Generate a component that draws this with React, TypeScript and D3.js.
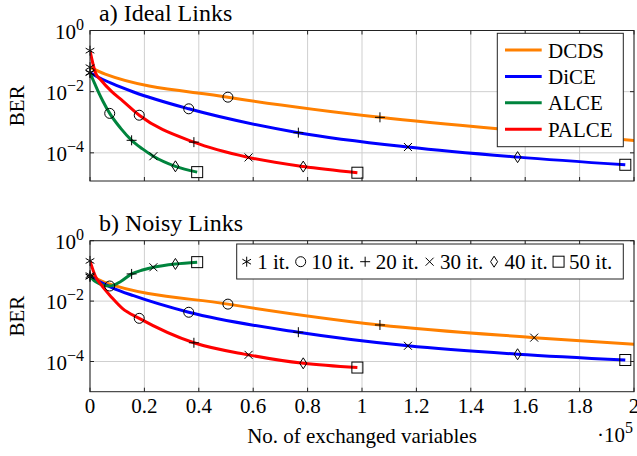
import * as d3 from 'd3';
import { useEffect, useRef } from 'react';

// iterations at which each curve was sampled (markers sit at 1,10,20,30,40,50)
const dcdsIt = [1, 2, 10, 20, 30, 40];
const diceIt = [1, 2, 3, 5, 10, 20, 30, 40, 50];
const alceIt = [1, 2, 3, 5, 7, 10, 15, 20, 25, 30, 40, 50];
const palceIt = [1, 2, 3, 5, 7, 10, 20, 30, 40, 50];

// exchanged variables (x 10^5)
const dcdsX = [0, 0.056, 0.507, 1.066, 1.633, 2.196];
const diceX = [0, 0.04, 0.08, 0.16, 0.363, 0.766, 1.169, 1.572, 1.968];
const alceX = [0, 0.008, 0.016, 0.032, 0.048, 0.0725, 0.113, 0.153, 0.193, 0.233, 0.314, 0.394];
const palceX = [0, 0.02, 0.04, 0.08, 0.12, 0.181, 0.382, 0.583, 0.784, 0.983];

// a) ideal links
const idealDcds = [0.0631, 0.0372, 0.00661, 0.00145, 4.79e-4, 1.78e-4];
const idealDice = [0.0417, 0.0269, 0.0186, 0.00977, 0.00275, 4.57e-4, 1.55e-4, 7.24e-5, 4.07e-5];
const idealAlce = [0.0407, 0.0282, 0.0195, 0.00933, 0.00479, 0.00195, 6.31e-4, 2.57e-4, 1.35e-4, 7.76e-5, 3.63e-5, 2.34e-5];
const idealPalce = [0.219, 0.0417, 0.024, 0.01, 0.00501, 0.0017, 2.24e-4, 7.08e-5, 3.55e-5, 2.24e-5];

// b) noisy links
const noisyDcds = [0.0724, 0.0407, 0.00794, 0.00162, 6.17e-4, 2.82e-4];
const noisyDice = [0.0646, 0.0417, 0.0282, 0.0151, 0.00427, 9.33e-4, 3.31e-4, 1.74e-4, 1.12e-4];
const noisyAlce = [0.0646, 0.055, 0.0468, 0.0389, 0.0339, 0.0316, 0.0447, 0.0794, 0.107, 0.132, 0.17, 0.195];
const noisyPalce = [0.214, 0.0661, 0.0355, 0.0132, 0.00562, 0.00269, 4.17e-4, 1.66e-4, 8.7e-5, 6.31e-5];

const methods = ['DCDS', 'DiCE', 'ALCE', 'PALCE'];
const markerIters = [1, 10, 20, 30, 40, 50];
const markerLabels = ['1 it.', '10 it.', '20 it.', '30 it.', '40 it.', '50 it.'];
const xTicks = [0, 0.2, 0.4, 0.6, 0.8, 1, 1.2, 1.4, 1.6, 1.8, 2];
const yTickExp = [0, -2, -4];

const colors: Record<string, string> = { DCDS: '#ff8000', DiCE: '#0000ff', ALCE: '#00843d', PALCE: '#ff0000' };
const shapes = ['asterisk', 'circle', 'plus', 'cross', 'diamond', 'square'];
const FONT = "'Liberation Serif', 'Times New Roman', serif";

function drawMarker(g: any, shape: string, cx: number, cy: number) {
  const m = g.append('g').attr('transform', `translate(${cx},${cy})`)
    .attr('fill', 'none').attr('stroke', '#000').attr('stroke-width', 1);
  if (shape === 'asterisk') m.append('path').attr('d', 'M0,-5V5M4.33,-2.5L-4.33,2.5M-4.33,-2.5L4.33,2.5');
  else if (shape === 'circle') m.append('circle').attr('r', 5);
  else if (shape === 'plus') m.append('path').attr('d', 'M-5,0H5M0,-5V5');
  else if (shape === 'cross') m.append('path').attr('d', 'M-4,-4L4,4M-4,4L4,-4');
  else if (shape === 'diamond') m.append('path').attr('d', 'M0,-5.5L3.5,0L0,5.5L-3.5,0Z');
  else m.append('rect').attr('x', -5.5).attr('y', -5.5).attr('width', 11).attr('height', 11);
}

export default function App() {
  const ref = useRef<SVGSVGElement>(null);

  useEffect(() => {
    const svg = d3.select(ref.current);
    svg.selectAll('*').remove();

    const left = 90, right = 634;
    const x = d3.scaleLinear().domain([0, 2]).range([left, right]);

    const panels = [
      { id: 'a', title: 'a) Ideal Links', top: 30.5, bottom: 181, yMin: 1.2e-5,
        series: [[dcdsIt, dcdsX, idealDcds], [diceIt, diceX, idealDice], [alceIt, alceX, idealAlce], [palceIt, palceX, idealPalce]] },
      { id: 'b', title: 'b) Noisy Links', top: 240.7, bottom: 391.7, yMin: 1e-5,
        series: [[dcdsIt, dcdsX, noisyDcds], [diceIt, diceX, noisyDice], [alceIt, alceX, noisyAlce], [palceIt, palceX, noisyPalce]] },
    ];

    panels.forEach((p, pi) => {
      const y = d3.scaleLog().domain([p.yMin, 1]).range([p.bottom, p.top]);
      const g = svg.append('g');

      g.append('clipPath').attr('id', 'clip' + p.id)
        .append('rect').attr('x', left).attr('y', p.top).attr('width', right - left).attr('height', p.bottom - p.top);

      // grid
      g.selectAll('.vg').data(xTicks).enter().append('line')
        .attr('x1', d => x(d)).attr('x2', d => x(d)).attr('y1', p.top).attr('y2', p.bottom)
        .attr('stroke', '#cfcfcf').attr('stroke-width', 1);
      g.selectAll('.hg').data(yTickExp).enter().append('line')
        .attr('x1', left).attr('x2', right).attr('y1', d => y(Math.pow(10, d))).attr('y2', d => y(Math.pow(10, d)))
        .attr('stroke', '#cfcfcf').attr('stroke-width', 1);

      // curves
      const line = d3.line<[number, number]>().x(d => x(d[0])).y(d => y(d[1])).curve(d3.curveMonotoneX);
      p.series.forEach((s, si) => {
        const pts = (s[1] as number[]).map((v, i) => [v, (s[2] as number[])[i]] as [number, number]);
        g.append('path').attr('d', line(pts)).attr('fill', 'none')
          .attr('stroke', colors[methods[si]]).attr('stroke-width', 3)
          .attr('clip-path', `url(#clip${p.id})`);
      });
      p.series.forEach(s => {
        (s[0] as number[]).forEach((it, i) => {
          const k = markerIters.indexOf(it);
          const xv = (s[1] as number[])[i];
          if (k < 0 || xv > 2) return;
          drawMarker(g, shapes[k], x(xv), y((s[2] as number[])[i]));
        });
      });

      // frame + ticks
      g.append('rect').attr('x', left).attr('y', p.top).attr('width', right - left).attr('height', p.bottom - p.top)
        .attr('fill', 'none').attr('stroke', '#222').attr('stroke-width', 1);
      xTicks.forEach(t => {
        g.append('line').attr('x1', x(t)).attr('x2', x(t)).attr('y1', p.bottom).attr('y2', p.bottom - 4).attr('stroke', '#222');
        g.append('line').attr('x1', x(t)).attr('x2', x(t)).attr('y1', p.top).attr('y2', p.top + 4).attr('stroke', '#222');
      });
      yTickExp.forEach(e => {
        const yy = y(Math.pow(10, e));
        g.append('line').attr('x1', left).attr('x2', left + 4).attr('y1', yy).attr('y2', yy).attr('stroke', '#222');
        g.append('line').attr('x1', right).attr('x2', right - 4).attr('y1', yy).attr('y2', yy).attr('stroke', '#222');
        const t = g.append('text').attr('x', 84).attr('y', yy + 8).attr('text-anchor', 'end')
          .attr('font-family', FONT).attr('font-size', 21);
        t.append('tspan').text('10');
        t.append('tspan').attr('dy', -9).attr('font-size', 16).text(e === 0 ? '0' : '\u2212' + Math.abs(e));
      });

      // titles and axis label
      g.append('text').attr('x', 99).attr('y', p.top - 10).attr('font-family', FONT).attr('font-size', 24).text(p.title);
      g.append('text').attr('transform', `translate(24,${(p.top + p.bottom) / 2}) rotate(-90)`)
        .attr('text-anchor', 'middle').attr('font-family', FONT).attr('font-size', 21).text('BER');

      if (pi === 1) {
        xTicks.forEach(t => {
          g.append('text').attr('x', x(t)).attr('y', 413).attr('text-anchor', 'middle')
            .attr('font-family', FONT).attr('font-size', 21).text(d3.format('~g')(t));
        });
        g.append('text').attr('x', (left + right) / 2).attr('y', 443).attr('text-anchor', 'middle')
          .attr('font-family', FONT).attr('font-size', 21).text('No. of exchanged variables');
        const e5 = g.append('text').attr('x', 633).attr('y', 442).attr('text-anchor', 'end')
          .attr('font-family', FONT).attr('font-size', 21);
        e5.append('tspan').text('\u00b710');
        e5.append('tspan').attr('dy', -9).attr('font-size', 16).text('5');
      }

      // legends
      if (pi === 0) {
        const lg = g.append('g');
        lg.append('rect').attr('x', 497.3).attr('y', 33.3).attr('width', 126).attr('height', 113.4)
          .attr('fill', '#fff').attr('stroke', '#222');
        methods.forEach((m, i) => {
          const cy = 50 + i * 26.4;
          lg.append('line').attr('x1', 505).attr('x2', 541.7).attr('y1', cy).attr('y2', cy)
            .attr('stroke', colors[m]).attr('stroke-width', 3);
          lg.append('text').attr('x', 548).attr('y', cy + 7.5).attr('font-family', FONT).attr('font-size', 21).text(m);
        });
      } else {
        const lg = g.append('g');
        lg.append('rect').attr('x', 236.7).attr('y', 244).attr('width', 386.6).attr('height', 35)
          .attr('fill', '#fff').attr('stroke', '#222');
        let cx = 246.7;
        markerLabels.forEach((lab, i) => {
          drawMarker(lg, shapes[i], cx, 261.7);
          const t = lg.append('text').attr('x', cx + 10.5).attr('y', 268.5).attr('font-family', FONT)
            .attr('font-size', 21).text(lab);
          const w = (t.node() as SVGTextElement).getComputedTextLength();
          cx = cx + 10.5 + w + 10.8;
        });
      }
    });
  }, []);

  return <svg ref={ref} width={637} height={456} style={{ position: 'absolute', left: 0, top: 0 }} />;
}
